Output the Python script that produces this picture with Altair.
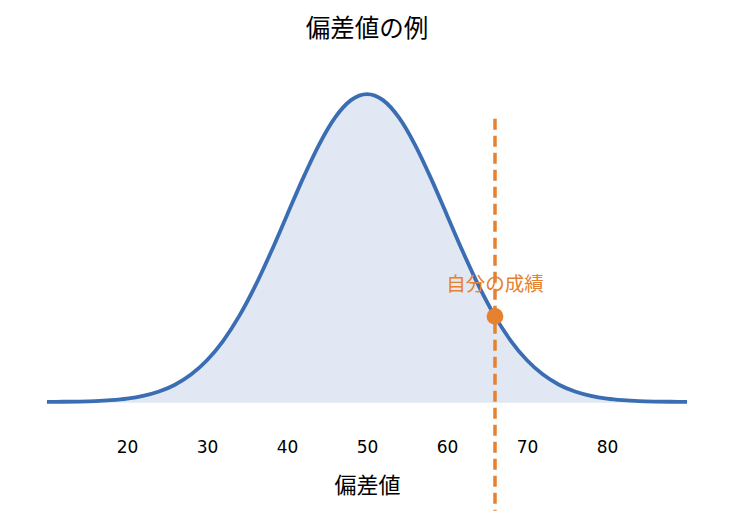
import altair as alt
import pandas as pd

# curve (偏差値 vs density)
xs = [10, 12, 14, 16, 18, 20, 22, 24, 26, 28, 30, 32, 34, 36, 38, 40, 42, 44, 46, 48,
      50, 52, 54, 56, 58, 60, 62, 64, 66, 68, 70, 72, 74, 76, 78, 80, 82, 84, 86, 88, 90]
dens = [0.00001, 0.00003, 0.00006, 0.00012, 0.00024, 0.00044, 0.00079, 0.00136, 0.00224,
        0.00355, 0.00540, 0.00790, 0.01109, 0.01497, 0.01942, 0.02420, 0.02897, 0.03332,
        0.03683, 0.03910, 0.03989, 0.03910, 0.03683, 0.03332, 0.02897, 0.02420, 0.01942,
        0.01497, 0.01109, 0.00790, 0.00540, 0.00355, 0.00224, 0.00136, 0.00079, 0.00044,
        0.00024, 0.00012, 0.00006, 0.00003, 0.00001]
my_score = [66]
my_density = [0.01109]
label_text = ["自分の成績"]
label_y = [0.0152]
rule_top = [0.0367]
rule_bottom = [-0.0141]
tick_values = [20, 30, 40, 50, 60, 70, 80]

BLUE = "#3b6db3"
ORANGE = "#e5812f"
FONT = "Noto Sans CJK JP"

curve = pd.DataFrame({"x": xs, "y": dens})
me = pd.DataFrame({"x": my_score, "y": my_density, "t": label_text, "ly": label_y,
                   "r1": rule_top, "r2": rule_bottom})

xscale = alt.Scale(domain=[10, 90], nice=False, zero=False)
yscale = alt.Scale(domain=[0, 0.0443], nice=False)

xax = alt.Axis(values=tick_values, domain=False, ticks=False, grid=False,
               labelFont="DejaVu Sans", labelFontSize=17, labelColor="black",
               labelPadding=37, title="偏差値", titleFont=FONT, titleFontSize=22,
               titleFontWeight="normal", titleColor="black", titlePadding=20)

base = alt.Chart(curve)
area = base.mark_area(color=BLUE, opacity=0.15, interpolate="monotone",
                      stroke=BLUE, strokeWidth=1.5, strokeOpacity=1).encode(
    x=alt.X("x:Q", scale=xscale, axis=xax),
    y=alt.Y("y:Q", scale=yscale, axis=None),
)
line = base.mark_line(color=BLUE, strokeWidth=3.8, interpolate="monotone").encode(
    x=alt.X("x:Q", scale=xscale),
    y=alt.Y("y:Q", scale=yscale),
)
mbase = alt.Chart(me)
rule = mbase.mark_rule(color=ORANGE, strokeWidth=3.5, strokeDash=[11, 6]).encode(
    x=alt.X("x:Q", scale=xscale), y=alt.Y("r1:Q", scale=yscale), y2="r2:Q")
point = mbase.mark_circle(color=ORANGE, size=280, opacity=1).encode(
    x=alt.X("x:Q", scale=xscale), y=alt.Y("y:Q", scale=yscale))
text = mbase.mark_text(color=ORANGE, font=FONT, fontSize=19.5, baseline="middle",
                       align="center").encode(
    x=alt.X("x:Q", scale=xscale), y=alt.Y("ly:Q", scale=yscale), text="t:N")

chart = alt.layer(area, line, rule, point, text).properties(
    width=640, height=342,
    title=alt.Title("偏差値の例", font=FONT, fontSize=24.5, fontWeight="normal",
                    color="black", offset=18),
    autosize=alt.AutoSizeParams(type="none"),
    padding={"left": 39, "top": 52, "right": 30, "bottom": 110},
).configure_view(stroke=None)

chart.save("out.html", embed_options={"renderer": "svg", "actions": False})
